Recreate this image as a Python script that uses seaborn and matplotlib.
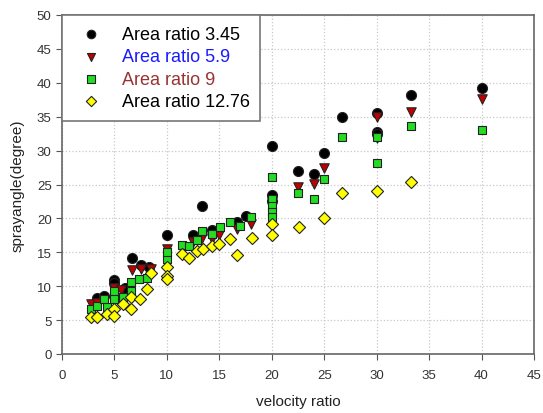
import pandas as pd
import numpy as np
import matplotlib
matplotlib.use('Agg')
import matplotlib.pyplot as plt
import seaborn as sns

# Area ratio 3.45
x_345 = [3.3, 4.0, 5.0, 5.0, 6.0, 6.7, 7.5, 8.3, 10, 12.5, 13.3, 14.3, 16.7, 17.5,
         20, 20, 20, 22.5, 24, 25, 26.7, 30, 30, 30, 33.3, 40]
y_345 = [8.3, 8.5, 10.9, 10.5, 9.7, 14.2, 13.1, 12.8, 17.6, 17.5, 21.8, 18.3, 19.5, 20.3,
         30.7, 23.4, 22.5, 27.0, 26.6, 29.6, 34.9, 35.6, 32.8, 32.5, 38.2, 39.2]

# Area ratio 5.9
x_59 = [2.8, 3.3, 4.0, 5.0, 5.6, 6.7, 7.5, 8.5, 10, 12.5, 13.3, 14.3, 15, 16.7, 18,
        20, 20, 22.5, 24, 25, 30, 30, 33.3, 40]
y_59 = [7.4, 7.5, 7.8, 9.8, 9.5, 12.4, 12.6, 12.5, 15.5, 16.5, 17.1, 16.9, 17.5, 18.4, 19.2,
        22.4, 22.0, 24.7, 25.1, 27.4, 34.9, 31.8, 35.7, 37.6]

# Area ratio 9
x_9 = [2.8, 3.3, 4.0, 4.3, 5.0, 5.0, 5.8, 6.6, 6.6, 7.3, 8.1, 10, 10, 11.4, 12.1, 12.9,
       13.3, 14.3, 15.1, 16.0, 17.0, 18.0, 20, 20, 20, 20, 20, 22.5, 24, 25, 26.7,
       30, 30, 33.3, 40]
y_9 = [6.6, 7.1, 8.1, 7.0, 9.3, 8.1, 8.4, 10.6, 9.3, 11.1, 11.2, 14.0, 15.0, 16.1, 16.0, 16.8,
       18.2, 17.7, 18.7, 19.4, 18.9, 20.2, 26.1, 22.8, 21.9, 20.9, 20.2, 23.7, 22.9, 25.8, 32.0,
       32.0, 28.2, 33.6, 33.0]

# Area ratio 12.76
x_1276 = [2.8, 3.3, 4.3, 5.0, 5.0, 5.8, 6.6, 6.6, 7.4, 8.1, 8.5, 10, 10, 10, 11.4, 12.1,
          12.9, 13.4, 14.3, 15, 16.0, 16.7, 18.1, 20, 20, 22.6, 25, 26.7, 30, 33.3]
y_1276 = [5.5, 5.5, 5.9, 6.6, 5.6, 7.4, 8.4, 6.6, 8.1, 9.6, 12.0, 12.8, 11.5, 11.0, 14.7, 14.1,
          15.2, 15.5, 16.0, 16.2, 16.9, 14.6, 17.1, 19.2, 17.5, 18.8, 20.1, 23.8, 24.0, 25.3]

labels = ['Area ratio 3.45', 'Area ratio 5.9', 'Area ratio 9', 'Area ratio 12.76']
fills = ['#000000', '#c00000', '#22dd22', '#ffff00']
marks = ['o', 'v', 's', 'D']
sizes = [52, 46, 40, 38]
text_colors = ['black', '#1a1aff', '#993333', 'black']

df = pd.concat([
    pd.DataFrame({'velocity ratio': x_345, 'sprayangle': y_345, 'series': labels[0]}),
    pd.DataFrame({'velocity ratio': x_59, 'sprayangle': y_59, 'series': labels[1]}),
    pd.DataFrame({'velocity ratio': x_9, 'sprayangle': y_9, 'series': labels[2]}),
    pd.DataFrame({'velocity ratio': x_1276, 'sprayangle': y_1276, 'series': labels[3]}),
], ignore_index=True)

sns.set_style('ticks')
plt.rcParams['font.family'] = ['Liberation Sans', 'DejaVu Sans']

fig = plt.figure(figsize=(5.43, 4.14), dpi=100)
ax = fig.add_axes([62 / 543, 59 / 414, 472 / 543, 339 / 414])

for lab, fc, mk, sz in zip(labels, fills, marks, sizes):
    sns.scatterplot(data=df[df['series'] == lab], x='velocity ratio', y='sprayangle',
                    color=fc, marker=mk, s=sz, edgecolor='#222222', linewidth=0.8,
                    label=lab, ax=ax, zorder=3)

ax.set_xlim(0, 45)
ax.set_ylim(0, 50)
ax.set_xticks(np.arange(0, 46, 5))
ax.set_yticks(np.arange(0, 51, 5))
ax.grid(True, ls=':', color='#c8c8c8', lw=0.9)
ax.tick_params(labelsize=9.5, colors='#555555', labelcolor='#333333', length=4, direction='out')
ax.tick_params(axis='x', pad=7)
for sp in ax.spines.values():
    sp.set_color('#666666')
    sp.set_linewidth(1.2)
    sp.set_visible(True)
ax.set_xlabel('velocity ratio', fontsize=11, color='#222222', labelpad=9)
ax.set_ylabel('sprayangle(degree)', fontsize=11, color='#222222', labelpad=9)

leg = ax.legend(loc='upper left', fontsize=13, frameon=True, fancybox=False,
                edgecolor='#777777', framealpha=1, borderaxespad=0.0,
                handletextpad=0.7, labelspacing=0.3, borderpad=0.6, markerscale=0.85)
leg.get_frame().set_linewidth(1.2)
for t, c in zip(leg.get_texts(), text_colors):
    t.set_color(c)

fig.savefig('out.png', dpi=100)
